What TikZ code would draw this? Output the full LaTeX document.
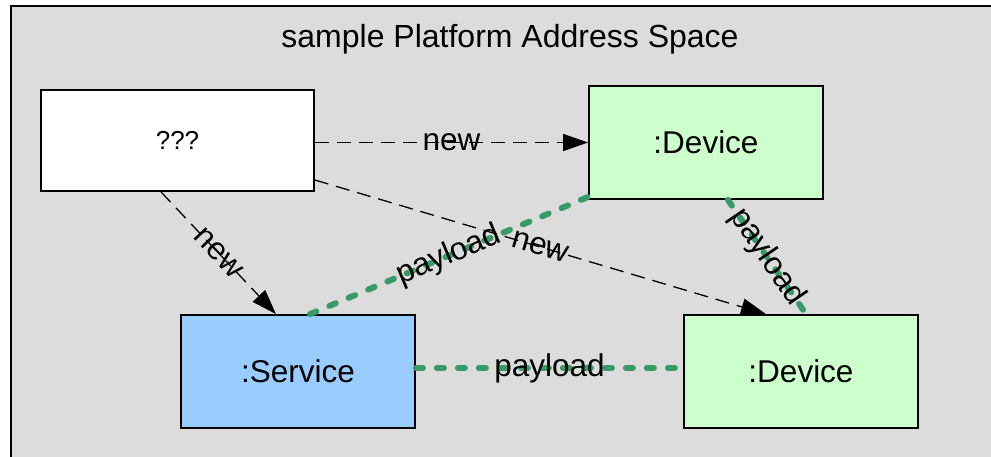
\documentclass[tikz,border=0pt]{standalone}
\usepackage{fontspec}
\setmainfont{Liberation Sans}
\usetikzlibrary{arrows.meta,calc}
\definecolor{areagray}{HTML}{DCDCDC}
\definecolor{devgreen}{HTML}{CCFFCC}
\definecolor{svcblue}{HTML}{99CCFF}
\definecolor{linkgreen}{HTML}{379B68}
\tikzset{
  box/.style={draw=black, line width=1.8pt, minimum width=234pt, minimum height=113pt,
    inner sep=0pt, font=\fontsize{31.5}{36}\selectfont},
  createlink/.style={draw=black, line width=1.3pt, dash pattern=on 14pt off 8pt,
    -{Triangle[length=25pt,width=17pt]}},
  datalink/.style={draw=linkgreen, line width=6pt, line cap=round, dash pattern=on 7pt off 14pt},
  lbl/.style={font=\fontsize{31.5}{36}\selectfont, text=black, inner sep=0pt},
}
\begin{document}
\begin{tikzpicture}[x=1pt,y=-1pt]
\useasboundingbox (0,0) rectangle (991,456);
% address space frame, running past the page edge
\begin{scope}
  \clip (0,0) rectangle (991,456);
  \draw[line width=2pt, fill=areagray] (11,6) rectangle (1010,480);
\end{scope}
\node[anchor=base, font=\fontsize{32}{38}\selectfont] (title) at (510,47) {sample Platform Address Space};

% objects
\node[box, fill=white, minimum width=273pt, minimum height=101pt,
  font=\fontsize{26}{30}\selectfont] (q) at (177.5,140.5) {???};
\node[box, fill=devgreen] (dt) at (706,142.5) {:Device};
\node[box, fill=svcblue] (sv) at (298,371.5) {:Service};
\node[box, fill=devgreen] (db) at (801,371.5) {:Device};

% payload links
\draw[datalink] ([xshift=12pt]sv.north) -- ([yshift=3pt]dt.south west)
  node[lbl, midway, sloped] {payload};
\draw[datalink] ([xshift=22pt]dt.south) -- ([xshift=5pt]db.north)
  node[lbl, midway, sloped] {payload};
\draw[datalink] ([yshift=3.5pt]sv.east) -- ([yshift=3.5pt]db.west)
  node[lbl, midway] {payload};

% creation links
\draw[createlink] (q.east |- dt.west) -- (dt.west)
  node[lbl, midway] {new};
\draw[createlink] ([xshift=-16.5pt]q.south) -- ([xshift=-22pt]sv.north)
  node[lbl, midway, sloped] {new};
\draw[createlink] ([yshift=-39.5pt]q.east) -- ([xshift=-35pt]db.north)
  node[lbl, midway, sloped] {new};
\end{tikzpicture}
\end{document}
